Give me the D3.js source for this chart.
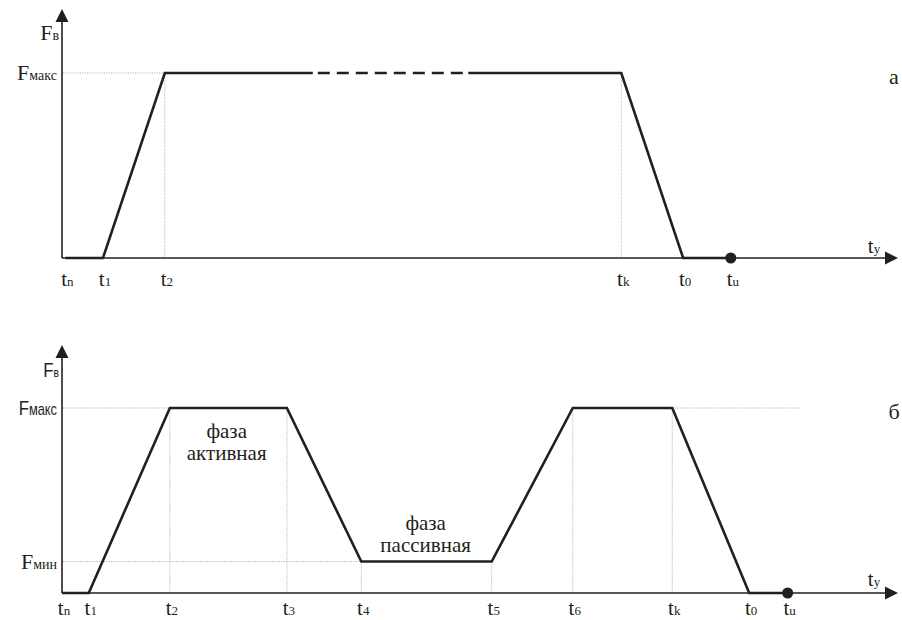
<!DOCTYPE html>
<html>
<head>
<meta charset="utf-8">
<script src="https://cdn.jsdelivr.net/npm/d3@7"></script>
<style>
  html, body { margin: 0; padding: 0; background: #fff; }
  svg { font-family: "Liberation Serif", Tinos, "Times New Roman", serif; }
  .sans { font-family: "Liberation Sans", Arimo, Arial, sans-serif; }
</style>
</head>
<body>
<script>
// ---------- data ----------
const panelLabels = ["а", "б"];

// panel а
const topTimes = [0.4, 4.9, 12.3, 66.9, 74.3, 80.0];
const topValues = [0, 0, 1, 1, 0, 0];
const topTickLabels = ["n", "1", "2", "k", "0", "u"];
const topDashed = [30.0, 48.6]; // interrupted plateau
const topLevels = [{ name: "макс", value: 1 }];

// panel б
const botTimes = [0, 3.2, 12.9, 26.9, 35.8, 51.4, 61.1, 73.0, 82.2, 86.8];
const botValues = [0, 0, 1, 1, 0.17, 0.17, 1, 1, 0, 0];
const botTickLabels = ["n", "1", "2", "3", "4", "5", "6", "k", "0", "u"];
const botLevels = [{ name: "макс", value: 1 }, { name: "мин", value: 0.17 }];
const phaseLabels = [
  { lines: ["фаза", "активная"], t: 19.7, v: 1, below: true },
  { lines: ["фаза", "пассивная"], t: 43.5, v: 0.17, below: false }
];

// ---------- drawing ----------
const W = 902, H = 620;
const ink = "#231f20";
const x = d3.scaleLinear().domain([0, 100]).range([62, 898]);
const svg = d3.select("body").append("svg").attr("width", W).attr("height", H);

function tLabel(g, px, py, sub, size) {
  const t = g.append("text").attr("x", px).attr("y", py).attr("text-anchor", "middle")
    .style("fill", ink).style("font-size", size + "px");
  t.append("tspan").text("t");
  t.append("tspan").style("font-size", Math.round(size * 0.64) + "px").text(sub);
  return t;
}
function fLabel(g, px, py, sub, size, sans, subRatio) {
  const gg = g.append("g").attr("transform", `translate(${px},${py}) scale(${sans ? 0.8 : 1},1)`);
  const t = gg.append("text").attr("x", 0).attr("y", 0).attr("text-anchor", "end")
    .attr("class", sans ? "sans" : null)
    .style("fill", ink).style("font-size", size + "px");
  t.append("tspan").text("F");
  t.append("tspan").style("font-size", Math.round(size * subRatio) + "px").text(sub);
  return t;
}

function drawPanel(opt) {
  const g = svg.append("g");
  const y = d3.scaleLinear().domain([0, 1]).range([opt.y0, opt.y1]);
  const x0 = x(0);

  const grid = g.append("g").attr("stroke", "#b5b5b5").attr("stroke-width", 1)
    .attr("stroke-dasharray", "1.2,1.2").attr("fill", "none");
  opt.hGrid.forEach(h => {
    grid.append("line").attr("x1", x0 + 1).attr("x2", x(h.to)).attr("y1", y(h.v)).attr("y2", y(h.v));
    if (h.from2 !== undefined)
      grid.append("line").attr("x1", x(h.from2)).attr("x2", x(h.to2)).attr("y1", y(h.v)).attr("y2", y(h.v));
  });
  opt.vGrid.forEach(i => {
    grid.append("line").attr("x1", x(opt.times[i])).attr("x2", x(opt.times[i]))
      .attr("y1", y(opt.values[i])).attr("y2", y(0));
  });

  g.append("line").attr("x1", x0).attr("x2", x(100) - 10).attr("y1", y(0)).attr("y2", y(0))
    .attr("stroke", ink).attr("stroke-width", 1.6);
  g.append("line").attr("x1", x0).attr("x2", x0).attr("y1", y(0)).attr("y2", opt.arrowTop + 10)
    .attr("stroke", ink).attr("stroke-width", 1.6);
  g.append("path").attr("fill", ink)
    .attr("d", `M${x0},${opt.arrowTop} L${x0 - 6.5},${opt.arrowTop + 13} L${x0 + 6.5},${opt.arrowTop + 13} Z`);
  g.append("path").attr("fill", ink)
    .attr("d", `M${x(100)},${y(0)} L${x(100) - 13},${y(0) - 6.5} L${x(100) - 13},${y(0) + 6.5} Z`);

  const pts = opt.times.map((t, i) => [x(t), y(opt.values[i])]);
  const line = d3.line();
  if (opt.dashed) {
    const [da, db] = opt.dashed;
    const iCut = opt.times.findIndex(t => t > da);
    const vPl = opt.values[iCut - 1];
    const first = pts.slice(0, iCut).concat([[x(da), y(vPl)]]);
    const last = [[x(db), y(vPl)]].concat(pts.slice(iCut));
    [first, last].forEach(p => g.append("path").attr("d", line(p)).attr("fill", "none")
      .attr("stroke", ink).attr("stroke-width", 2.6).attr("stroke-linejoin", "miter"));
    g.append("path").attr("d", line([[x(da), y(vPl)], [x(db), y(vPl)]])).attr("fill", "none")
      .attr("stroke", ink).attr("stroke-width", 2.6)
      .attr("stroke-dasharray", "12,7").attr("stroke-dashoffset", 14);
  } else {
    g.append("path").attr("d", line(pts)).attr("fill", "none")
      .attr("stroke", ink).attr("stroke-width", 2.6).attr("stroke-linejoin", "miter");
  }
  const lastPt = pts[pts.length - 1];
  g.append("circle").attr("cx", lastPt[0]).attr("cy", lastPt[1]).attr("r", 5.5).attr("fill", ink);

  opt.times.forEach((t, i) => tLabel(g, x(t) + 2, opt.tickY, opt.ticks[i], 21));
  tLabel(g, x(100) - 24, opt.tyY, "y", 21);

  fLabel(g, 59, opt.fbY, "в", opt.fbSans ? 21 : 22, opt.fbSans, 0.62);
  opt.levels.forEach(l => {
    fLabel(g, 57, y(l.value) + 7, l.name, l.sans ? 21 : 22, l.sans, l.sans ? 0.74 : 0.64);
  });

  g.append("text").attr("x", 894).attr("y", opt.panelY).attr("text-anchor", "middle")
    .style("fill", ink).style("font-size", "22px").text(opt.panel);

  (opt.phases || []).forEach(p => {
    const base = p.below ? y(p.v) + 30 : y(p.v) - 32;
    p.lines.forEach((s, k) => g.append("text")
      .attr("x", x(p.t)).attr("y", base + k * 22).attr("text-anchor", "middle")
      .style("fill", ink).style("font-size", "21px").text(s));
  });
}

drawPanel({
  y0: 258, y1: 73, arrowTop: 9,
  times: topTimes, values: topValues, ticks: topTickLabels, dashed: topDashed,
  hGrid: [{ v: 1, to: topTimes[2] }],
  vGrid: [2, 3],
  tickY: 286, tyY: 253, fbY: 40, fbSans: false,
  levels: topLevels.map(l => ({ ...l, sans: false })),
  panel: panelLabels[0], panelY: 84
});
drawPanel({
  y0: 593, y1: 408, arrowTop: 345,
  times: botTimes, values: botValues, ticks: botTickLabels,
  hGrid: [{ v: 1, to: botTimes[2], from2: botTimes[7], to2: 88.4 }, { v: 0.17, to: botTimes[4] }],
  vGrid: [2, 3, 4, 5, 6, 7],
  tickY: 615, tyY: 586, fbY: 377, fbSans: true,
  levels: botLevels.map(l => ({ ...l, sans: l.name === "макс" })),
  panel: panelLabels[1], panelY: 419,
  phases: phaseLabels
});
</script>
</body>
</html>
